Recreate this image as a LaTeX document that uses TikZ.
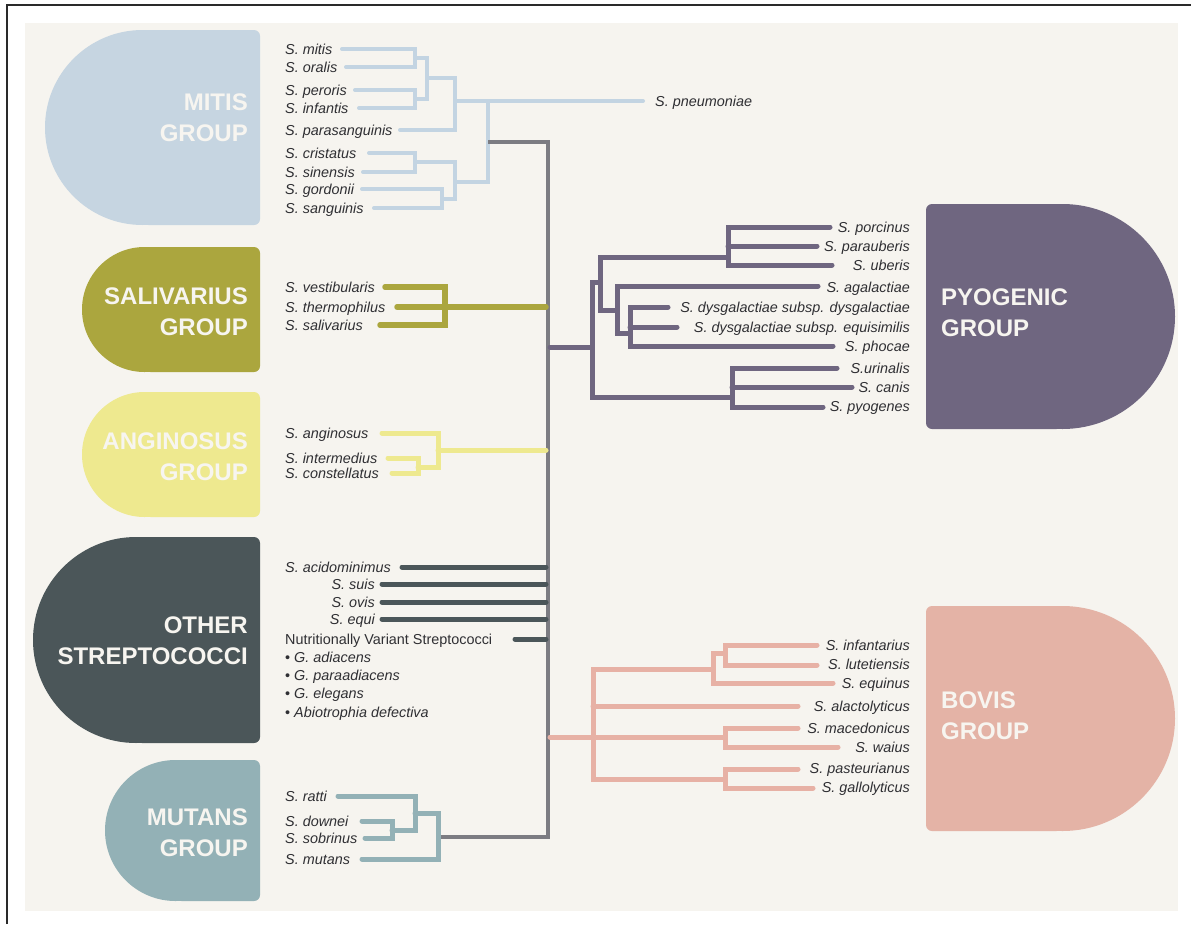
\documentclass[tikz,border=0pt]{standalone}
\usepackage{fontspec}
\setmainfont{Liberation Sans}
\definecolor{bg}{HTML}{F6F4EF}
\definecolor{frame}{HTML}{2A2A2A}
\definecolor{txt}{HTML}{2F2F33}
\definecolor{lab}{HTML}{F7F5F0}
\definecolor{cmit}{HTML}{C6D5E1}
\definecolor{lmit}{HTML}{C3D4E2}
\definecolor{csal}{HTML}{ABA63E}
\definecolor{cang}{HTML}{EEE98F}
\definecolor{coth}{HTML}{4B5659}
\definecolor{cmut}{HTML}{93B1B6}
\definecolor{cpyo}{HTML}{6F6680}
\definecolor{cbov}{HTML}{E4B3A6}
\definecolor{lbov}{HTML}{E7B1A5}
\definecolor{cgray}{HTML}{7C7C82}
\tikzset{
  sp/.style={font=\fontsize{14.4}{16}\selectfont\itshape, text=txt, inner sep=0pt, text height=10.3pt, text depth=0pt},
  spl/.style={sp, anchor=west},
  spr/.style={sp, anchor=east},
  grp/.style={font=\fontsize{24}{31}\selectfont\bfseries, text=lab, inner sep=0pt, align=right, anchor=east},
  grpr/.style={grp, align=left, anchor=west},
  br/.style={line width=4.5pt, line cap=round},
  mitbr/.style={br, line width=4pt, draw=lmit},
  salbr/.style={br, line width=5.5pt, draw=csal},
  angbr/.style={br, line width=5pt, draw=cang},
  othbr/.style={br, line width=5pt, draw=coth},
  mutbr/.style={br, line width=5pt, draw=cmut},
  pyobr/.style={br, line width=5pt, draw=cpyo},
  bovbr/.style={br, line width=5pt, draw=lbov},
  graybr/.style={br, line width=4.5pt, draw=cgray},
}
\begin{document}
\begin{tikzpicture}[x=1pt,y=-1pt]
\useasboundingbox (0,0) rectangle (1191,924);
\fill[white] (0,0) rectangle (1191,924);
\fill[bg] (25,23) rectangle (1178,911);
\draw[frame, line width=1.6pt] (7,924) -- (7,5) -- (1191,5);

% group shapes (left)
\fill[cmit] (142.5,127.5) circle[radius=97.5pt];
\fill[cmit, rounded corners=6pt] (142.5,30) rectangle (260,225);
\fill[csal] (144.5,309.5) circle[radius=62.5pt];
\fill[csal, rounded corners=6pt] (144.5,247) rectangle (260,372);
\fill[cang] (144.5,454.5) circle[radius=62.5pt];
\fill[cang, rounded corners=6pt] (144.5,392) rectangle (260,517);
\fill[coth] (136,640) circle[radius=103pt];
\fill[coth, rounded corners=6pt] (136,537) rectangle (260,743);
\fill[cmut] (175.5,830.5) circle[radius=70.5pt];
\fill[cmut, rounded corners=6pt] (175.5,760) rectangle (260,901);
% group shapes (right)
\fill[cpyo] (1062.5,316.5) circle[radius=112.5pt];
\fill[cpyo, rounded corners=6pt] (926,204) rectangle (1062.5,429);
\fill[cbov] (1062.5,718.5) circle[radius=112.5pt];
\fill[cbov, rounded corners=6pt] (926,606) rectangle (1062.5,831);

\node[grp] (gmit) at (248,117.5) {MITIS\\GROUP};
\node[grp] (gsal) at (248,312) {SALIVARIUS\\GROUP};
\node[grp] (gang) at (248,456.5) {ANGINOSUS\\GROUP};
\node[grp] (goth) at (248,640.5) {OTHER\\STREPTOCOCCI};
\node[grp] (gmut) at (248,832.5) {MUTANS\\GROUP};
\node[grpr] (gpyo) at (941,313) {PYOGENIC\\GROUP};
\node[grpr] (gbov) at (941,715.5) {BOVIS\\GROUP};

% mitis
\node[spl] (mitis) at (285,49) {S. mitis};
\node[spl] (oralis) at (285,67) {S. oralis};
\node[spl] (peroris) at (285,90) {S. peroris};
\node[spl] (infantis) at (285,108) {S. infantis};
\node[spl] (parasang) at (285,130) {S. parasanguinis};
\node[spl] (cristatus) at (285,153) {S. cristatus};
\node[spl] (sinensis) at (285,172) {S. sinensis};
\node[spl] (gordonii) at (285,189) {S. gordonii};
\node[spl] (sanguinis) at (285,208) {S. sanguinis};
\node[spl] (pneumo) at (655,101) {S. pneumoniae};
% salivarius
\node[spl] (vestib) at (285,287) {S. vestibularis};
\node[spl] (thermo) at (285,307) {S. thermophilus};
\node[spl] (saliv) at (285,325) {S. salivarius};
% anginosus
\node[spl] (angin) at (285,433) {S. anginosus};
\node[spl] (interm) at (285,458) {S. intermedius};
\node[spl] (constel) at (285,473) {S. constellatus};
% other
\node[spl] (acido) at (285,567) {S. acidominimus};
\node[spr] (suis) at (375,584) {S. suis};
\node[spr] (ovis) at (375,602) {S. ovis};
\node[spr] (equi) at (375,619) {S. equi};
\node[spl, font=\fontsize{14.4}{16}\selectfont] (nvs) at (285,639) {Nutritionally Variant Streptococci};
\node[spl] (gadi) at (285,657) {{\upshape\textbullet} G. adiacens};
\node[spl] (gpara) at (285,675) {{\upshape\textbullet} G. paraadiacens};
\node[spl] (geleg) at (285,693) {{\upshape\textbullet} G. elegans};
\node[spl] (abio) at (285,712) {{\upshape\textbullet} Abiotrophia defectiva};
% mutans
\node[spl] (ratti) at (285,796) {S. ratti};
\node[spl] (downei) at (285,821) {S. downei};
\node[spl] (sobrinus) at (285,838) {S. sobrinus};
\node[spl] (mutans) at (285,859) {S. mutans};
% pyogenic
\node[spr] (porcinus) at (910,227) {S. porcinus};
\node[spr] (parauberis) at (910,246) {S. parauberis};
\node[spr] (uberis) at (910,265) {S. uberis};
\node[spr] (agalactiae) at (910,287) {S. agalactiae};
\node[spr] (dysg) at (910,307) {S. dysgalactiae subsp. dysgalactiae};
\node[spr] (equis) at (910,327) {S. dysgalactiae subsp. equisimilis};
\node[spr] (phocae) at (910,346) {S. phocae};
\node[spr] (urinalis) at (910,368) {S.urinalis};
\node[spr] (canis) at (910,387) {S. canis};
\node[spr] (pyogenes) at (910,406) {S. pyogenes};
% bovis
\node[spr] (infantarius) at (910,645) {S. infantarius};
\node[spr] (lutet) at (910,664) {S. lutetiensis};
\node[spr] (equinus) at (910,683) {S. equinus};
\node[spr] (alacto) at (910,706) {S. alactolyticus};
\node[spr] (macedo) at (910,728) {S. macedonicus};
\node[spr] (waius) at (910,747) {S. waius};
\node[spr] (pasteur) at (910,768) {S. pasteurianus};
\node[spr] (gallo) at (910,787) {S. gallolyticus};

% ---- mitis tree
\draw[mitbr] (342,49) -- (415,49) -- (415,67) -- (346,67);
\draw[mitbr] (355,90) -- (415,90) -- (415,108) -- (359,108);
\draw[mitbr] (415,58) -- (427,58) -- (427,99) -- (415,99);
\draw[mitbr] (427,78) -- (455,78) -- (455,130) -- (400,130);
\draw[mitbr] (455,101) -- (643,101);
\draw[mitbr] (369,153) -- (415,153) -- (415,172) -- (363,172);
\draw[mitbr] (362,189) -- (442,189) -- (442,208) -- (374,208);
\draw[mitbr] (415,162) -- (455,162) -- (455,199) -- (442,199);
\draw[mitbr] (455,182) -- (488,182) -- (488,101);
% ---- main gray
\draw[graybr, line cap=butt] (488,142) -- (548,142) -- (548,837) -- (438,837);
% ---- salivarius
\draw[salbr] (385,287) -- (445,287) -- (445,325) -- (380,325);
\draw[salbr] (397,307) -- (546,307);
% ---- anginosus
\draw[angbr] (382,433) -- (438,433) -- (438,467) -- (418,467);
\draw[angbr] (388,458) -- (418,458) -- (418,473) -- (392,473);
\draw[angbr] (438,450) -- (546,450);
% ---- other
\draw[othbr] (402,567) -- (546,567);
\draw[othbr] (382,584) -- (546,584);
\draw[othbr] (382,602) -- (546,602);
\draw[othbr] (382,619) -- (546,619);
\draw[othbr] (515,639) -- (546,639);
% ---- mutans
\draw[mutbr] (338,796) -- (415,796) -- (415,830) -- (392,830);
\draw[mutbr] (362,821) -- (392,821) -- (392,838) -- (365,838);
\draw[mutbr] (415,813) -- (438,813) -- (438,859) -- (362,859);
% ---- pyogenic
\draw[pyobr] (550,347) -- (592,347);
\draw[pyobr] (600,282) -- (592,282) -- (592,397) -- (732,397);
\draw[pyobr] (728,257) -- (600,257) -- (600,310) -- (617,310);
\draw[pyobr] (830,227) -- (728,227) -- (728,265) -- (832,265);
\draw[pyobr] (728,246) -- (817,246);
\draw[pyobr] (818,286) -- (617,286) -- (617,333) -- (630,333);
\draw[pyobr] (668,307) -- (630,307) -- (630,346) -- (833,346);
\draw[pyobr] (630,327) -- (677,327);
\draw[pyobr] (837,368) -- (732,368) -- (732,407) -- (823,407);
\draw[pyobr] (732,387) -- (852,387);
% ---- bovis
\draw[bovbr] (550,737) -- (725,737);
\draw[bovbr] (713,669) -- (593,669) -- (593,779) -- (725,779);
\draw[bovbr] (833,683) -- (713,683) -- (713,653) -- (725,653);
\draw[bovbr] (817,645) -- (725,645) -- (725,665) -- (817,665);
\draw[bovbr] (593,706) -- (798,706);
\draw[bovbr] (798,728) -- (725,728) -- (725,747) -- (838,747);
\draw[bovbr] (798,769) -- (725,769) -- (725,788) -- (813,788);
\end{tikzpicture}
\end{document}
